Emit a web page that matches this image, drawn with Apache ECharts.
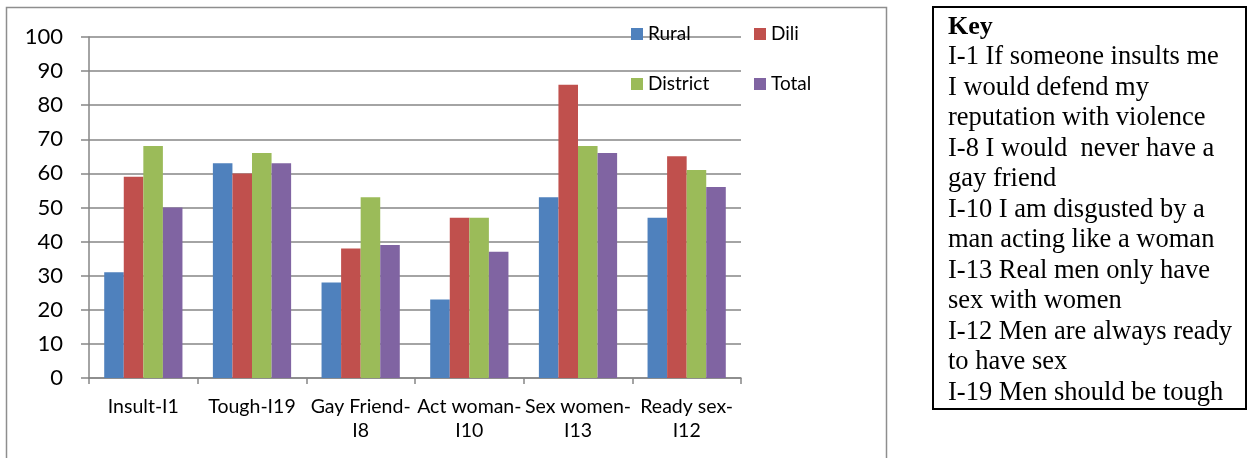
<!DOCTYPE html>
<html>
<head>
<meta charset="utf-8">
<script src="https://cdn.jsdelivr.net/npm/echarts@6/dist/echarts.min.js"></script>
<style>
html,body{margin:0;padding:0;background:#fff;}
#c{width:1247px;height:458px;}
</style>
</head>
<body>
<div id="c"></div>
<script>
const categories = ['Insult-I1', 'Tough-I19', 'Gay Friend-\nI8', 'Act woman-\nI10', 'Sex women-\nI13', 'Ready sex-\nI12'];
const rural    = [31, 63, 28, 23, 53, 47];
const dili     = [59, 60, 38, 47, 86, 65];
const district = [68, 66, 53, 47, 68, 61];
const total    = [50, 63, 39, 37, 66, 56];
const seriesNames = ['Rural', 'Dili', 'District', 'Total'];
const keyTitle = 'Key';
const keyLines = [
  'I-1 If someone insults me',
  'I would defend my',
  'reputation with violence',
  'I-8 I would  never have a',
  'gay friend',
  'I-10 I am disgusted by a',
  'man acting like a woman',
  'I-13 Real men only have',
  'sex with women',
  'I-12 Men are always ready',
  'to have sex',
  'I-19 Men should be tough'
];

const colors = ['#4F81BD', '#C0504D', '#9BBB59', '#8064A2'];
const values = [rural, dili, district, total];
const font = 'Lato';
const gray = '#868686';

const chart = echarts.init(document.getElementById('c'), null, {renderer: 'canvas'});
chart.setOption({
  animation: false,
  color: colors,
  textStyle: {fontFamily: font},
  grid: {left: 89, top: 37, right: 506, bottom: 80, containLabel: false},
  legend: [
    {
      data: [seriesNames[0], seriesNames[2]],
      orient: 'vertical', left: 631, top: 24, padding: 0,
      itemWidth: 12, itemHeight: 12, itemGap: 30, icon: 'rect',
      selectedMode: false,
      textStyle: {fontFamily: font, fontSize: 19, color: '#000', lineHeight: 20}
    },
    {
      data: [seriesNames[1], seriesNames[3]],
      orient: 'vertical', left: 754, top: 24, padding: 0,
      itemWidth: 12, itemHeight: 12, itemGap: 30, icon: 'rect',
      selectedMode: false,
      textStyle: {fontFamily: font, fontSize: 19, color: '#000', lineHeight: 20}
    }
  ],
  xAxis: {
    type: 'category',
    data: categories,
    axisLine: {show: true, lineStyle: {color: gray, width: 1.5}},
    axisTick: {show: true, length: 6, interval: 0, lineStyle: {color: gray, width: 1.5}},
    axisLabel: {interval: 0, fontFamily: font, fontSize: 19.5, color: '#000', lineHeight: 24, margin: 17}
  },
  yAxis: {
    type: 'value',
    min: 0, max: 100, interval: 10,
    axisLine: {show: true, lineStyle: {color: gray, width: 1.5}},
    axisTick: {show: true, length: 8, lineStyle: {color: gray, width: 1.5}},
    splitLine: {show: true, lineStyle: {color: gray, width: 1.5}},
    axisLabel: {fontFamily: font, fontSize: 22, color: '#000', margin: 26}
  },
  series: seriesNames.map((n, i) => ({
    name: n,
    type: 'bar',
    data: values[i],
    barGap: '0%',
    barCategoryGap: '28%',
    itemStyle: {color: colors[i]}
  })),
  graphic: [
    {
      type: 'rect', silent: true, z: 0,
      shape: {x: 6.5, y: 7.5, width: 880, height: 470},
      style: {fill: 'none', stroke: '#8e8e8e', lineWidth: 1.5}
    },
    {
      type: 'rect', silent: true,
      shape: {x: 933, y: 7, width: 313, height: 402},
      style: {fill: '#fff', stroke: '#000', lineWidth: 2}
    },
    {
      type: 'text', silent: true,
      style: {
        text: keyTitle, x: 948, y: 11.75,
        font: 'bold 26px "Liberation Serif"', fill: '#000',
        lineHeight: 30.5, verticalAlign: 'top'
      }
    },
    {
      type: 'text', silent: true,
      style: {
        text: keyLines.join('\n'), x: 948, y: 42.25,
        font: '26.5px "Liberation Serif"', fill: '#000',
        lineHeight: 30.5, verticalAlign: 'top'
      }
    }
  ]
});
</script>
</body>
</html>
